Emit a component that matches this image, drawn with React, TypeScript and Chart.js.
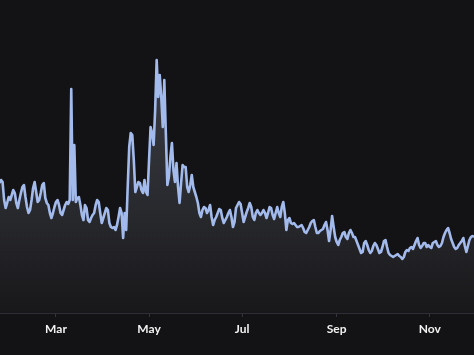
import React, { useEffect, useRef } from "react";
import { Chart, registerables } from "chart.js";

Chart.register(...registerables);

// Daily series; first value is day-of-year 22 (Jan 23)
const startDay = 22;
const values: number[] = [
  130, 133, 131, 113, 105, 110, 116, 113, 118, 123,
  120, 110, 105, 113, 120, 126, 128, 116, 106, 100,
  103, 113, 125, 131, 121, 111, 113, 120, 128, 130,
  115, 110, 108, 100, 95, 100, 106, 111, 113, 108,
  100, 98, 103, 108, 111, 109, 113, 224, 113, 168,
  111, 115, 116, 108, 98, 93, 108, 105, 93, 91,
  95, 98, 100, 108, 113, 111, 100, 90, 95, 100,
  105, 103, 90, 86, 85, 86, 83, 88, 96, 105,
  100, 75, 100, 83, 126, 166, 180, 178, 153, 121,
  126, 131, 130, 123, 120, 133, 121, 118, 153, 186,
  180, 168, 203, 253, 216, 238, 216, 186, 233, 180,
  128, 136, 156, 170, 143, 131, 150, 126, 110, 130,
  148, 146, 146, 126, 121, 128, 138, 126, 121, 116,
  110, 100, 96, 103, 106, 105, 100, 103, 108, 96,
  88, 93, 96, 100, 104, 103, 95, 90, 93, 96,
  100, 103, 96, 86, 91, 105, 108, 111, 109, 100,
  91, 96, 101, 105, 110, 106, 96, 93, 100, 103,
  100, 98, 100, 103, 100, 95, 100, 106, 105, 98,
  94, 100, 106, 100, 96, 106, 111, 100, 83, 93,
  95, 90, 89, 90, 88, 86, 86, 87, 88, 85,
  81, 80, 83, 86, 90, 92, 93, 86, 80, 80,
  82, 83, 84, 88, 91, 83, 72, 83, 97, 86,
  76, 71, 68, 73, 76, 80, 81, 76, 74, 80,
  83, 80, 76, 76, 72, 68, 64, 60, 61, 70,
  72, 68, 63, 60, 62, 67, 70, 68, 64, 60,
  61, 66, 72, 73, 66, 60, 58, 57, 56, 57,
  58, 59, 57, 56, 54, 56, 61, 63, 62, 65,
  66, 64, 68, 72, 75, 68, 65, 67, 70, 70,
  66, 68, 66, 65, 70, 71, 72, 68, 66, 67,
  70, 76, 80, 83, 85, 80, 74, 70, 66, 64,
  65, 68, 70, 72, 75, 67, 61, 67, 73, 76,
  77, 76,
];

// Month-start tick positions (day of year) and labels
const tickDays: number[] = [59, 120, 181, 243, 304];
const tickLabels: string[] = ["Mar", "May", "Jul", "Sep", "Nov"];

const BG = "#131214";

export default function App() {
  const ref = useRef<HTMLCanvasElement | null>(null);

  useEffect(() => {
    document.body.style.margin = "0";
    document.body.style.background = BG;
    const canvas = ref.current;
    if (!canvas) return;
    const points = values.map((v, i) => ({ x: startDay + i, y: v }));

    const bgPlugin = {
      id: "bg",
      beforeDraw(chart: any) {
        const { ctx, width, height } = chart;
        ctx.save();
        ctx.fillStyle = BG;
        ctx.fillRect(0, 0, width, height);
        ctx.restore();
      },
    };

    const chart = new Chart(canvas, {
      type: "line",
      data: {
        datasets: [
          {
            data: points,
            borderColor: "#a3bbec",
            borderWidth: 2.6,
            borderJoinStyle: "round",
            pointRadius: 0,
            tension: 0,
            fill: "origin",
            backgroundColor: (c: any) => {
              const area = c.chart.chartArea;
              if (!area) return "#2a2b31";
              const g = c.chart.ctx.createLinearGradient(0, area.top, 0, area.bottom);
              g.addColorStop(0, "#454752");
              g.addColorStop(0.4, "#34353c");
              g.addColorStop(0.7, "#27282c");
              g.addColorStop(1, "#18171a");
              return g;
            },
          },
        ],
      },
      options: {
        animation: false,
        responsive: false,
        layout: { padding: 0 },
        plugins: { legend: { display: false }, tooltip: { enabled: false } },
        scales: {
          x: {
            type: "linear",
            min: 22.3,
            max: 333,
            afterBuildTicks: (axis: any) => {
              axis.ticks = tickDays.map((d) => ({ value: d }));
            },
            afterFit: (axis: any) => {
              axis.height = 42;
            },
            ticks: {
              autoSkip: false,
              maxRotation: 0,
              padding: 5,
              color: "#f2f2f2",
              font: { family: "Lato", size: 12, weight: "bold" },
              callback: (v: any) => {
                const idx = tickDays.indexOf(Number(v));
                return idx >= 0 ? tickLabels[idx] : "";
              },
            },
            grid: {
              drawOnChartArea: false,
              drawTicks: true,
              tickLength: 4,
              color: "#34343c",
            },
            border: { display: true, color: "#2e2e36", width: 1 },
          },
          y: {
            display: false,
            min: 0,
            max: 313,
          },
        },
      },
      plugins: [bgPlugin],
    });
    return () => chart.destroy();
  }, []);

  return (
    <div style={{ width: 474, height: 355 }}>
      <canvas ref={ref} width={474} height={355} />
    </div>
  );
}
